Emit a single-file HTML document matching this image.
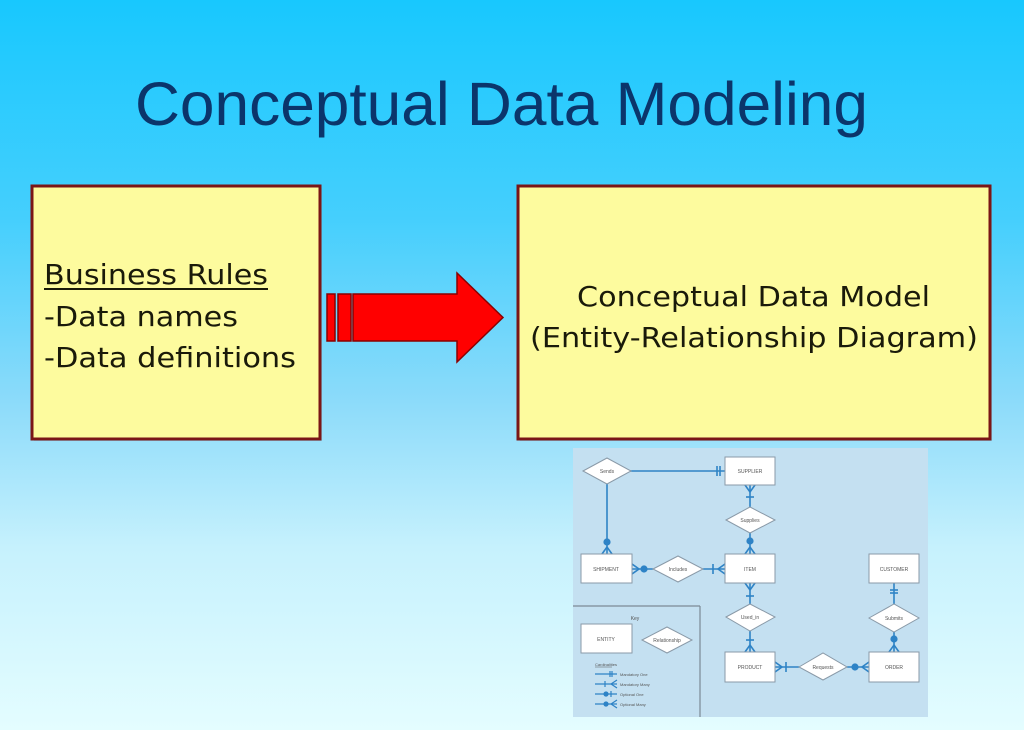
<!DOCTYPE html>
<html><head><meta charset="utf-8"><style>
html,body{margin:0;padding:0;width:1024px;height:730px;overflow:hidden}
svg{display:block}
</style></head><body>
<svg width="1024" height="730" viewBox="0 0 1024 730" xmlns="http://www.w3.org/2000/svg">
<defs>
<linearGradient id="bg" x1="0" y1="0" x2="0" y2="1">
<stop offset="0" stop-color="#18c8fe"/>
<stop offset="0.3" stop-color="#45cffd"/>
<stop offset="0.55" stop-color="#8cdbfa"/>
<stop offset="0.75" stop-color="#c6f1fd"/>
<stop offset="1" stop-color="#e4fdff"/>
</linearGradient>
</defs>
<rect width="1024" height="730" fill="url(#bg)"/>

<!-- Title -->
<text x="135" y="125" font-family="Liberation Sans, sans-serif" font-size="61" fill="#0b356b" textLength="733" lengthAdjust="spacingAndGlyphs">Conceptual Data Modeling</text>

<!-- Box 1 -->
<rect x="34" y="188" width="288" height="253" fill="#7aa9c0" opacity="0.35"/>
<rect x="32" y="186" width="288" height="253" fill="#fdfb9e" stroke="#7a1616" stroke-width="3"/>
<g font-family="DejaVu Sans, sans-serif" font-size="28" fill="#1a1a0a">
<text x="44" y="284" textLength="224" lengthAdjust="spacingAndGlyphs">Business Rules</text>
<text x="44" y="326" textLength="194" lengthAdjust="spacingAndGlyphs">-Data names</text>
<text x="44" y="367" textLength="252" lengthAdjust="spacingAndGlyphs">-Data definitions</text>
</g>
<rect x="44" y="288" width="224" height="2" fill="#1a1a0a"/>

<!-- Box 2 -->
<rect x="520" y="188" width="472" height="253" fill="#7aa9c0" opacity="0.35"/>
<rect x="518" y="186" width="472" height="253" fill="#fdfb9e" stroke="#7a1616" stroke-width="3"/>
<g font-family="DejaVu Sans, sans-serif" font-size="28" fill="#1a1a0a">
<text x="577" y="306" textLength="353" lengthAdjust="spacingAndGlyphs">Conceptual Data Model</text>
<text x="530" y="347" textLength="448" lengthAdjust="spacingAndGlyphs">(Entity-Relationship Diagram)</text>
</g>

<!-- Arrow -->
<g fill="#ff0000" stroke="#8a0000" stroke-width="1.5">
<rect x="327" y="294" width="8" height="47"/>
<rect x="338" y="294" width="13" height="47"/>
<polygon points="353,294 457,294 457,273 503,317.5 457,362 457,341 353,341"/>
</g>

<!-- ER diagram panel -->
<rect x="573" y="448" width="355" height="269" fill="#c4e0f1"/>
<g stroke="#2e83c6" stroke-width="1.6" fill="none">
<line x1="630" y1="471" x2="725" y2="471"/>
<line x1="717" y1="466" x2="717" y2="476"/>
<line x1="720" y1="466" x2="720" y2="476"/>
<line x1="607" y1="484" x2="607" y2="554"/>
<circle cx="607" cy="542" r="2.8" fill="#2e83c6"/>
<path d="M602,554 L607,547 L612,554"/>
<line x1="750" y1="485" x2="750" y2="507"/>
<path d="M745,485 L750,492 L755,485"/>
<line x1="746" y1="497" x2="754" y2="497"/>
<line x1="750" y1="533" x2="750" y2="554"/>
<circle cx="750" cy="541" r="2.8" fill="#2e83c6"/>
<path d="M745,554 L750,547 L755,554"/>
<line x1="632" y1="569" x2="653" y2="569"/>
<path d="M632,564 L639,569 L632,574"/>
<circle cx="644" cy="569" r="2.8" fill="#2e83c6"/>
<line x1="703" y1="569" x2="725" y2="569"/>
<line x1="713" y1="564" x2="713" y2="574"/>
<path d="M725,564 L718,569 L725,574"/>
<line x1="750" y1="583" x2="750" y2="604"/>
<path d="M745,583 L750,590 L755,583"/>
<line x1="746" y1="596" x2="754" y2="596"/>
<line x1="750" y1="631" x2="750" y2="652"/>
<line x1="746" y1="640" x2="754" y2="640"/>
<path d="M745,652 L750,645 L755,652"/>
<line x1="775" y1="667" x2="799" y2="667"/>
<path d="M775,662 L782,667 L775,672"/>
<line x1="786" y1="662" x2="786" y2="672"/>
<line x1="847" y1="667" x2="869" y2="667"/>
<circle cx="855" cy="667" r="2.8" fill="#2e83c6"/>
<path d="M869,662 L862,667 L869,672"/>
<line x1="894" y1="583" x2="894" y2="604"/>
<line x1="890" y1="590" x2="898" y2="590"/>
<line x1="890" y1="593" x2="898" y2="593"/>
<line x1="894" y1="632" x2="894" y2="652"/>
<circle cx="894" cy="639" r="2.8" fill="#2e83c6"/>
<path d="M889,652 L894,645 L899,652"/>
</g>

<g fill="#ffffff" stroke="#8a9aa8" stroke-width="1">
<rect x="725" y="457" width="50" height="28"/>
<rect x="581" y="554" width="51" height="29"/>
<rect x="725" y="554" width="50" height="29"/>
<rect x="869" y="554" width="50" height="29"/>
<rect x="725" y="652" width="50" height="30"/>
<rect x="869" y="652" width="50" height="30"/>
<rect x="581" y="624" width="51" height="29"/>
<polygon points="583,471 607,458 631,471 607,484"/>
<polygon points="726,520 750,507 775,520 750,533"/>
<polygon points="653,569 678,556 703,569 678,582"/>
<polygon points="726,617 750,604 775,617 750,631"/>
<polygon points="869,618 894,604 919,618 894,632"/>
<polygon points="799,667 823,653 847,667 823,680"/>
<polygon points="642,640 667,627 692,640 667,653"/>
</g>

<g stroke="#7c8a96" stroke-width="1.2" fill="none">
<line x1="573" y1="606" x2="700" y2="606"/>
<line x1="700" y1="606" x2="700" y2="717"/>
</g>

<g font-family="Liberation Sans, sans-serif" font-size="5" fill="#555" text-anchor="middle">
<text x="750" y="473">SUPPLIER</text>
<text x="607" y="473">Sends</text>
<text x="750" y="522">Supplies</text>
<text x="606" y="571">SHIPMENT</text>
<text x="678" y="571">Includes</text>
<text x="750" y="571">ITEM</text>
<text x="894" y="571">CUSTOMER</text>
<text x="750" y="619">Used_in</text>
<text x="894" y="620">Submits</text>
<text x="750" y="669">PRODUCT</text>
<text x="823" y="669">Requests</text>
<text x="894" y="669">ORDER</text>
<text x="635" y="620">Key</text>
<text x="606" y="641">ENTITY</text>
<text x="667" y="642">Relationship</text>
</g>
<g font-family="Liberation Sans, sans-serif" font-size="4" fill="#555">
<text x="595" y="666">Cardinalities</text>
<text x="620" y="676">Mandatory One</text>
<text x="620" y="686">Mandatory Many</text>
<text x="620" y="696">Optional One</text>
<text x="620" y="706">Optional Many</text>
</g>
<g stroke="#2e83c6" stroke-width="1.2" fill="none">
<line x1="595" y1="667" x2="612" y2="667" stroke="#555" stroke-width="0.5"/>
<line x1="595" y1="674" x2="617" y2="674"/>
<line x1="610" y1="671" x2="610" y2="677"/><line x1="612" y1="671" x2="612" y2="677"/>
<line x1="595" y1="684" x2="617" y2="684"/>
<line x1="605" y1="681" x2="605" y2="687"/><path d="M617,680 L611,684 L617,688"/>
<line x1="595" y1="694" x2="617" y2="694"/>
<circle cx="606" cy="694" r="2" fill="#2e83c6"/><line x1="611" y1="691" x2="611" y2="697"/>
<line x1="595" y1="704" x2="617" y2="704"/>
<circle cx="606" cy="704" r="2" fill="#2e83c6"/><path d="M617,700 L611,704 L617,708"/>
</g>
</svg>
</body></html>
